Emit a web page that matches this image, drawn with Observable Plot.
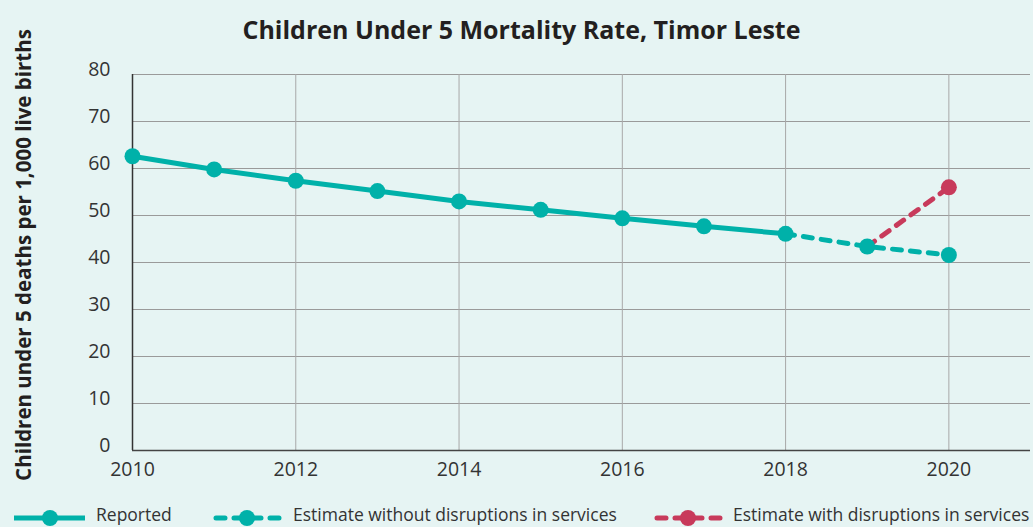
<!DOCTYPE html>
<html>
<head>
<meta charset="utf-8">
<script src="https://cdn.jsdelivr.net/npm/d3@7"></script>
<script src="https://cdn.jsdelivr.net/npm/@observablehq/plot@0.6"></script>
<style>
  html, body { margin: 0; padding: 0; background: #e6f4f3; width: 1033px; height: 527px; overflow: hidden; font-family: "Open Sans", "DejaVu Sans", sans-serif; position: relative; }
  #title { height: 50px; text-align: center; font-weight: bold; font-size: 25px; color: #231f20; line-height: 58px; padding-left: 10px; box-sizing: border-box; }
  #ylabel { position: absolute; left: 23px; top: 255px; transform: translate(-50%, -50%) rotate(-90deg); white-space: nowrap; font-weight: bold; font-size: 20.5px; color: #231f20; line-height: 1; }
  #chart svg { display: block; background: transparent; }
  #legend { position: relative; height: 22px; }
  .item { position: absolute; top: 0; height: 22px; }
  .item svg { position: absolute; top: 0; left: 0; }
  .item span { position: absolute; top: 1px; white-space: nowrap; font-size: 17.5px; line-height: 1; color: #333; }
</style>
</head>
<body>
<div id="title">Children Under 5 Mortality Rate, Timor Leste</div>
<div id="ylabel"></div>
<div id="chart"></div>
<div id="legend"></div>
<script>
const reportedYears = [2010, 2011, 2012, 2013, 2014, 2015, 2016, 2017, 2018];
const reportedValues = [62.6, 59.8, 57.4, 55.2, 53.0, 51.2, 49.4, 47.7, 46.1];
const noDisruptYears = [2018, 2019, 2020];
const noDisruptValues = [46.1, 43.4, 41.6];
const disruptYears = [2019, 2020];
const disruptValues = [43.4, 56.0];
const yTicks = [0, 10, 20, 30, 40, 50, 60, 70, 80];
const xTicks = [2010, 2012, 2014, 2016, 2018, 2020];
const seriesNames = ["Reported", "Estimate without disruptions in services", "Estimate with disruptions in services"];
const yLabel = "Children under 5 deaths per 1,000 live births";

const teal = "#00b1a9";
const red = "#c83a5b";

document.getElementById("ylabel").textContent = yLabel;

const reported = reportedYears.map((y, i) => ({year: y, value: reportedValues[i]}));
const noDisrupt = noDisruptYears.map((y, i) => ({year: y, value: noDisruptValues[i]}));
const disrupt = disruptYears.map((y, i) => ({year: y, value: disruptValues[i]}));

const chart = Plot.plot({
  width: 1033,
  height: 455,
  marginLeft: 132,
  marginRight: 3,
  marginTop: 24,
  marginBottom: 55,
  style: {background: "transparent", fontFamily: "'Open Sans', sans-serif", fontSize: "19px", color: "#333"},
  x: {domain: [2010, 2021], label: null},
  y: {domain: [0, 80], label: null},
  marks: [
    Plot.gridY(yTicks, {stroke: "#9a9a9a", strokeOpacity: 1, strokeWidth: 1}),
    Plot.gridX(xTicks.slice(1), {stroke: "#a8a8a8", strokeOpacity: 1, strokeWidth: 1}),
    Plot.ruleX([2010], {stroke: "#333", strokeWidth: 1.5}),
    Plot.ruleY([0], {stroke: "#444", strokeWidth: 1.5}),
    Plot.axisY(yTicks, {tickSize: 0, tickPadding: 22, dy: -5, label: null, fontSize: 19.5, fill: "#333", tickFormat: d => String(d)}),
    Plot.axisX(xTicks, {tickSize: 0, tickPadding: 12, label: null, fontSize: 19.5, fill: "#333", tickFormat: d => String(d)}),
    Plot.line(disrupt, {x: "year", y: "value", stroke: red, strokeWidth: 5, strokeDasharray: "9,9", strokeLinecap: "round"}),
    Plot.line(noDisrupt, {x: "year", y: "value", stroke: teal, strokeWidth: 5, strokeDasharray: "9,9", strokeLinecap: "round"}),
    Plot.line(reported, {x: "year", y: "value", stroke: teal, strokeWidth: 5}),
    Plot.dot(disrupt.slice(1), {x: "year", y: "value", r: 8, fill: red}),
    Plot.dot(noDisrupt.slice(1), {x: "year", y: "value", r: 8, fill: teal}),
    Plot.dot(reported, {x: "year", y: "value", r: 8, fill: teal})
  ]
});
document.getElementById("chart").appendChild(chart);

// legend
const legendItems = [
  {name: seriesNames[0], color: teal, dash: null, left: 14, textLeft: 82},
  {name: seriesNames[1], color: teal, dash: "9,9", left: 213, textLeft: 80},
  {name: seriesNames[2], color: red, dash: "9,9", left: 654, textLeft: 79}
];
const legend = document.getElementById("legend");
for (const it of legendItems) {
  const div = document.createElement("div");
  div.className = "item";
  div.style.left = it.left + "px";
  const ns = "http://www.w3.org/2000/svg";
  const svg = document.createElementNS(ns, "svg");
  svg.setAttribute("width", 75);
  svg.setAttribute("height", 22);
  const line = document.createElementNS(ns, "line");
  line.setAttribute("x1", it.dash ? 3 : 0);
  line.setAttribute("x2", it.dash ? 66 : 71);
  line.setAttribute("y1", 13);
  line.setAttribute("y2", 13);
  line.setAttribute("stroke", it.color);
  line.setAttribute("stroke-width", 5);
  if (it.dash) { line.setAttribute("stroke-dasharray", it.dash); line.setAttribute("stroke-linecap", "round"); }
  svg.appendChild(line);
  const c = document.createElementNS(ns, "circle");
  c.setAttribute("cx", it.dash ? 34 : 36);
  c.setAttribute("cy", 13);
  c.setAttribute("r", 8);
  c.setAttribute("fill", it.color);
  svg.appendChild(c);
  div.appendChild(svg);
  const span = document.createElement("span");
  span.style.left = it.textLeft + "px";
  span.textContent = it.name;
  div.appendChild(span);
  legend.appendChild(div);
}
</script>
</body>
</html>
